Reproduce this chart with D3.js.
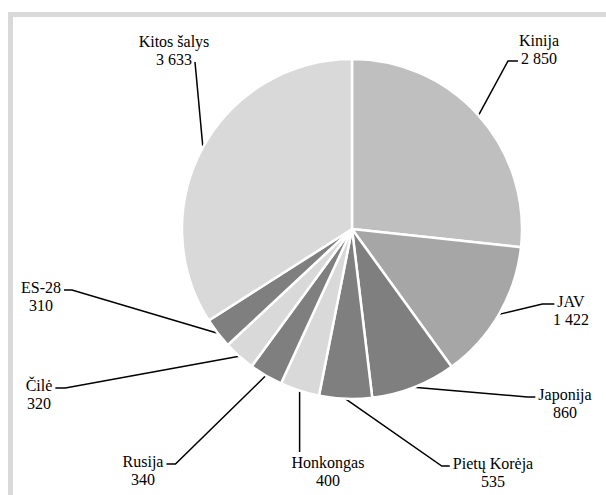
<!DOCTYPE html>
<html>
<head>
<meta charset="utf-8">
<script src="https://cdn.jsdelivr.net/npm/d3@7/dist/d3.min.js"></script>
</head>
<body style="margin:0">
<script>

const countries = ["Kinija", "JAV", "Japonija", "Pietų Korėja", "Honkongas",
                   "Rusija", "Čilė", "ES-28", "Kitos šalys"];
const amounts = [2850, 1422, 860, 535, 400, 340, 320, 310, 3633];

const sliceColors = ["#bfbfbf", "#a6a6a6", "#7f7f7f", "#7f7f7f", "#d9d9d9",
                     "#7f7f7f", "#d9d9d9", "#7f7f7f", "#d9d9d9"];

// hand placed labels, like the original: text centre x, first baseline y,
// which side the leader line comes in from, and which text row it meets
const labelLayout = [
  {x: 539, y: 46,  side: "left",  row: 1, tick: 10},
  {x: 571, y: 307, side: "left",  row: 0, tick: 12},
  {x: 565, y: 400, side: "left",  row: 0, tick: 8},
  {x: 493, y: 469, side: "left",  row: 0, tick: 8},
  {x: 328, y: 468, side: "top",   row: 0, tick: 0},
  {x: 143, y: 467, side: "right", row: 0, tick: 9},
  {x: 39,  y: 391, side: "right", row: 0, tick: 10},
  {x: 41,  y: 293, side: "right", row: 0, tick: 8},
  {x: 174, y: 47,  side: "right", row: 1, tick: 0}
];

const W = 606, H = 495;
const cx = 352, cy = 229, radius = 170;
const lineGap = 18;

const svg = d3.select("body").append("svg")
  .attr("width", W)
  .attr("height", H)
  .attr("font-family", "Liberation Serif")
  .attr("font-size", 16);

// labels first, then frame and pie
const labels = svg.append("g");

const numFmt = d3.formatLocale({decimal: ",", thousands: " ", grouping: [3], currency: ["", ""]}).format(",d");

const pie = d3.pie().sort(null).value(d => d);
const arcs = pie(amounts);
const arc = d3.arc().innerRadius(0).outerRadius(radius);

// frame, right and bottom edges fall outside the picture
svg.insert("rect", ":first-child")
  .attr("x", 10.5).attr("y", 14.5)
  .attr("width", 700).attr("height", 600)
  .attr("fill", "none")
  .attr("stroke", "#d9d9d9")
  .attr("stroke-width", 5);

const g = svg.append("g").attr("transform", `translate(${cx}, ${cy})`);

g.selectAll("path")
  .data(arcs)
  .join("path")
  .attr("d", arc)
  .attr("fill", (d, i) => sliceColors[i])
  .attr("stroke", "white")
  .attr("stroke-width", 2.5)
  .attr("stroke-linejoin", "round");

arcs.forEach((d, i) => {
  const lay = labelLayout[i];
  const rows = [countries[i], numFmt(amounts[i])];
  const rowText = rows.map((s, k) => labels.append("text")
    .attr("x", lay.x)
    .attr("y", lay.y + k * lineGap)
    .attr("text-anchor", "middle")
    .attr("font-family", "Liberation Serif")
    .attr("font-size", 16)
    .text(s));

  // leader line: pie edge -> elbow -> short tick by the text
  const mid = (d.startAngle + d.endAngle) / 2;
  const p = [cx + radius * Math.sin(mid), cy - radius * Math.cos(mid)];
  const w = rowText[lay.row].node().getComputedTextLength();
  const ty = lay.y + lay.row * lineGap - 3;
  let pts;
  if (lay.side === "left") {
    const x0 = lay.x - w / 2 - 3;
    pts = [p, [x0 - lay.tick, ty], [x0, ty]];
  } else if (lay.side === "right") {
    const x0 = lay.x + w / 2 + 3;
    pts = [p, [x0 + lay.tick, ty], [x0, ty]];
  } else {
    pts = [p, [p[0], lay.y - 16]];
  }
  labels.append("path")
    .attr("d", d3.line()(pts))
    .attr("fill", "none")
    .attr("stroke", "#000")
    .attr("stroke-width", 1.5);
});

</script>
</body>
</html>
